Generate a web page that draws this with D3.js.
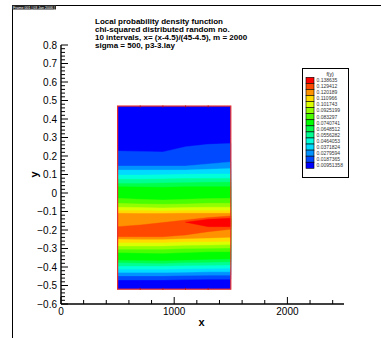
<!DOCTYPE html>
<html>
<head>
<meta charset="utf-8">
<script src="https://cdn.jsdelivr.net/npm/d3@7"></script>
<style>
  body { margin: 0; background: #fff; }
  svg text { font-family: "Liberation Sans", Arial, sans-serif; }
</style>
</head>
<body>
<svg id="chart" width="381" height="338"></svg>
<script>
// ---- chart text ----
const frameHeader = "Frame 001  |  03 Jan 2006  |";
const titleLines = [
  "Local probability density function",
  "chi-squared distributed random no.",
  "10 intervals,  x= (x-4.5)/(45-4.5), m = 2000",
  "sigma = 500, p3-3.lay"
];
const xLabel = "x";
const yLabel = "y";
const legendTitle = "f(y)";

// ---- axis ticks ----
const xMajorTicks = [0, 1000, 2000];
const yMajorTicks = [0.8, 0.7, 0.6, 0.5, 0.4, 0.3, 0.2, 0.1, 0, -0.1, -0.2, -0.3, -0.4, -0.5, -0.6];

// ---- contour levels of f(y) (ascending) ----
const levels = [0.00951358, 0.0187365, 0.0279594, 0.0371824, 0.0464053, 0.0556282,
  0.0648512, 0.0740741, 0.083297, 0.0925199, 0.101743, 0.110966, 0.120189, 0.129412, 0.138635];

// ---- mesh: x columns and y extent of the domain ----
const meshX = [500, 700, 900, 1100, 1300, 1500];
const meshYRange = [-0.52, 0.47];

// heights where f(y) crosses levels[1..14], above the peak (upper) and below it (lower),
// one value per mesh column; null where the level is not reached
const crossUpper = [
  [0.227, 0.225, 0.222, 0.250, 0.263, 0.268],
  [0.146, 0.146, 0.146, 0.146, 0.157, 0.168],
  [0.124, 0.124, 0.124, 0.124, 0.128, 0.132],
  [0.097, 0.097, 0.099, 0.101, 0.103, 0.103],
  [0.074, 0.074, 0.076, 0.078, 0.079, 0.079],
  [0.052, 0.052, 0.054, 0.056, 0.058, 0.058],
  [0.034, 0.033, 0.031, 0.034, 0.034, 0.034],
  [-0.029, -0.034, -0.038, -0.034, -0.030, -0.029],
  [-0.056, -0.059, -0.061, -0.059, -0.056, -0.056],
  [-0.077, -0.079, -0.081, -0.079, -0.077, -0.077],
  [-0.095, -0.095, -0.097, -0.095, -0.095, -0.095],
  [-0.110, -0.111, -0.111, -0.110, -0.110, -0.110],
  [-0.182, -0.173, -0.160, -0.146, -0.133, -0.124],
  [null, null, null, -0.158, -0.142, -0.137]
];
const crossLower = [
  [-0.470, -0.470, -0.470, -0.468, -0.466, -0.466],
  [-0.448, -0.448, -0.448, -0.446, -0.444, -0.444],
  [-0.430, -0.430, -0.430, -0.428, -0.426, -0.426],
  [-0.412, -0.412, -0.412, -0.410, -0.408, -0.407],
  [-0.394, -0.394, -0.394, -0.392, -0.390, -0.389],
  [-0.376, -0.378, -0.380, -0.376, -0.374, -0.372],
  [-0.362, -0.363, -0.365, -0.362, -0.358, -0.356],
  [-0.322, -0.324, -0.326, -0.322, -0.318, -0.317],
  [-0.304, -0.304, -0.304, -0.300, -0.299, -0.297],
  [-0.286, -0.286, -0.286, -0.282, -0.281, -0.279],
  [-0.268, -0.268, -0.268, -0.264, -0.263, -0.261],
  [-0.248, -0.250, -0.250, -0.246, -0.243, -0.239],
  [-0.236, -0.236, -0.236, -0.227, -0.209, -0.196],
  [null, null, null, -0.158, -0.182, -0.182]
];

// ---- flood colours, one per level (blue -> red) ----
const bandColors = ["#0000ff", "#0049ff", "#0092ff", "#00dbff", "#00ffdb", "#00ff92",
  "#00ff49", "#00ff00", "#49ff00", "#92ff00", "#dbff00", "#ffdb00", "#ff9200", "#ff4900", "#ff0000"];

const svg = d3.select("#chart");

// page frame and header
svg.append("line").attr("x1", 12).attr("x2", 381).attr("y1", 5.5).attr("y2", 5.5)
  .attr("stroke", "#000").attr("stroke-width", 1);
svg.append("line").attr("x1", 12.5).attr("x2", 12.5).attr("y1", 5).attr("y2", 338)
  .attr("stroke", "#000").attr("stroke-width", 1);
svg.append("rect").attr("x", 12).attr("y", 5).attr("width", 44).attr("height", 4.5).attr("fill", "#222");
svg.append("text").attr("x", 13).attr("y", 8.7).attr("font-size", 3.6).attr("fill", "#fff")
  .text(frameHeader);

// scales
const x = d3.scaleLinear().domain([0, 2500]).range([61, 344]);
const y = d3.scaleLinear().domain([-0.6, 0.8]).range([304, 45]);

// flood contour bands
const plot = svg.append("g");
plot.append("rect")
  .attr("x", x(meshX[0])).attr("y", y(meshYRange[1]))
  .attr("width", x(meshX[meshX.length - 1]) - x(meshX[0]))
  .attr("height", y(meshYRange[0]) - y(meshYRange[1]))
  .attr("fill", bandColors[0]);

const line = d3.line().x(d => x(d[0])).y(d => y(d[1]));
crossUpper.forEach((up, i) => {
  const lo = crossLower[i];
  const top = meshX.map((mx, j) => [mx, up[j]]).filter(d => d[1] !== null);
  const bottom = meshX.map((mx, j) => [mx, lo[j]]).filter(d => d[1] !== null).reverse();
  plot.append("path")
    .attr("d", line(top.concat(bottom)) + "Z")
    .attr("fill", bandColors[i + 1])
    .attr("stroke", bandColors[i + 1])
    .attr("stroke-width", 0.4);
});

// domain boundary with mesh node marks
const bx0 = x(meshX[0]), bx1 = x(meshX[meshX.length - 1]);
const by0 = y(meshYRange[1]), by1 = y(meshYRange[0]);
plot.append("rect").attr("x", bx0).attr("y", by0).attr("width", bx1 - bx0).attr("height", by1 - by0)
  .attr("fill", "none").attr("stroke", "#e8302c").attr("stroke-width", 1.2);
meshX.slice(1, -1).forEach(mx => {
  plot.append("line").attr("x1", x(mx)).attr("x2", x(mx)).attr("y1", by0 - 0.6).attr("y2", by0 + 1.4)
    .attr("stroke", "#b01010").attr("stroke-width", 0.8);
  plot.append("line").attr("x1", x(mx)).attr("x2", x(mx)).attr("y1", by1 + 0.6).attr("y2", by1 - 1.4)
    .attr("stroke", "#b01010").attr("stroke-width", 0.8);
});

// axes (ticks drawn inward)
const axes = svg.append("g");
axes.append("line").attr("x1", x(0)).attr("x2", x(2500)).attr("y1", y(-0.6)).attr("y2", y(-0.6))
  .attr("stroke", "#000").attr("stroke-width", 1.4);
axes.append("line").attr("x1", x(0)).attr("x2", x(0)).attr("y1", y(-0.6)).attr("y2", y(0.8))
  .attr("stroke", "#000").attr("stroke-width", 1.4);

d3.range(0, 2501, 200).forEach(v => {
  const major = xMajorTicks.includes(v);
  axes.append("line").attr("x1", x(v)).attr("x2", x(v))
    .attr("y1", y(-0.6)).attr("y2", y(-0.6) - (major ? 7 : 4))
    .attr("stroke", "#000").attr("stroke-width", 1);
});
xMajorTicks.forEach(v => {
  axes.append("text").attr("x", x(v)).attr("y", y(-0.6) + 11)
    .attr("text-anchor", "middle").attr("font-size", 10).text(v);
});

d3.range(-30, 41).map(k => k / 50).forEach(v => {
  const major = Math.abs(v * 10 - Math.round(v * 10)) < 1e-6;
  axes.append("line").attr("x1", x(0)).attr("x2", x(0) + (major ? 7 : 4))
    .attr("y1", y(v)).attr("y2", y(v))
    .attr("stroke", "#000").attr("stroke-width", 1);
});
yMajorTicks.forEach(v => {
  axes.append("text").attr("x", x(0) - 4).attr("y", y(v) + 3.5)
    .attr("text-anchor", "end").attr("font-size", 10).text(d3.format("")(v));
});

svg.append("text").attr("x", x(1250) - 1).attr("y", 326).attr("text-anchor", "middle")
  .attr("font-size", 11).attr("font-weight", "bold").text(xLabel);
svg.append("text").attr("transform", `translate(38,${y(0.1)}) rotate(-90)`).attr("text-anchor", "middle")
  .attr("font-size", 11).attr("font-weight", "bold").text(yLabel);

// title
svg.append("g").selectAll("text").data(titleLines).join("text")
  .attr("x", 95).attr("y", (d, i) => 24 + i * 8)
  .attr("font-size", 8).attr("font-weight", "bold").text(d => d);

// legend
const lg = svg.append("g");
lg.append("rect").attr("x", 302.5).attr("y", 68.5).attr("width", 46).attr("height", 109)
  .attr("fill", "#fff").attr("stroke", "#000").attr("stroke-width", 1);
lg.append("text").attr("x", 330).attr("y", 75.5).attr("text-anchor", "middle")
  .attr("font-size", 5).text(legendTitle);
const legendRows = levels.slice().reverse();
const sw = d3.scaleBand().domain(d3.range(legendRows.length)).range([77.3, 168.3]);
legendRows.forEach((v, i) => {
  lg.append("rect").attr("x", 306).attr("y", sw(i)).attr("width", 8).attr("height", sw.bandwidth())
    .attr("fill", bandColors[levels.length - 1 - i]).attr("stroke", "#000").attr("stroke-width", 0.6);
  lg.append("text").attr("x", 316.5).attr("y", sw(i) + sw.bandwidth() / 2 + 1.8)
    .attr("font-size", 5).attr("fill", "#333").text(v);
});
</script>
</body>
</html>
